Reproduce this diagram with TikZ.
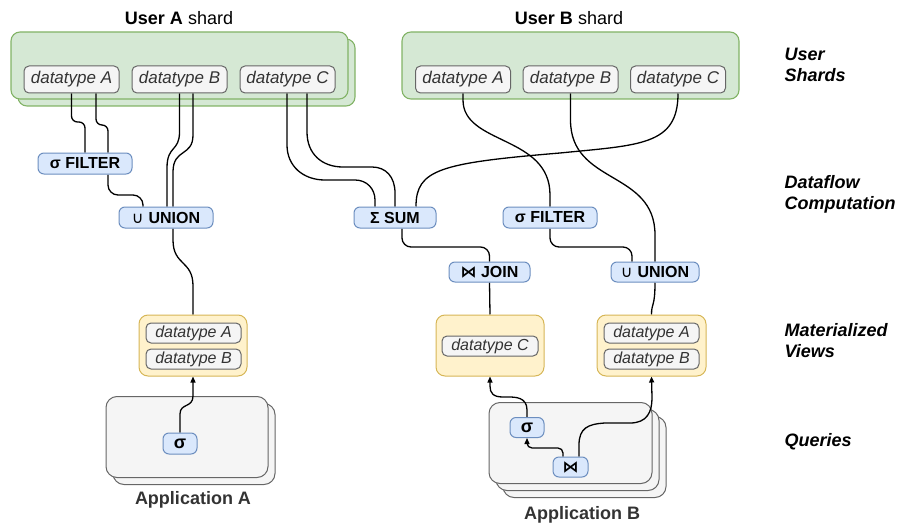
\documentclass[tikz,border=0pt]{standalone}
\usepackage{fontspec}
\setmainfont{Liberation Sans}
\newfontfamily\symfont{DejaVu Sans}
\usetikzlibrary{arrows.meta}
\pgfdeclarelayer{back}
\pgfdeclarelayer{wires}
\pgfsetlayers{back,wires,main}

\definecolor{shardfill}{HTML}{D5E8D4}
\definecolor{shardline}{HTML}{82B366}
\definecolor{dtfill}{HTML}{F5F5F5}
\definecolor{dtline}{HTML}{666666}
\definecolor{dttext}{HTML}{333333}
\definecolor{opfill}{HTML}{DAE8FC}
\definecolor{opline}{HTML}{6C8EBF}
\definecolor{mvfill}{HTML}{FFF2CC}
\definecolor{mvline}{HTML}{D6B656}

\begin{document}
\begin{tikzpicture}[x=1pt,y=1pt,
  shard/.style={draw=shardline, fill=shardfill, line width=1.1pt, rounded corners=9pt,
    minimum width=337pt, minimum height=67pt, inner sep=0pt},
  dtbox/.style={draw=dtline, fill=dtfill, line width=1pt, rounded corners=5pt,
    minimum width=95pt, minimum height=27pt, inner sep=0pt, text=dttext,
    font=\fontsize{17}{20}\selectfont\itshape},
  dtsmall/.style={dtbox, minimum height=20pt, font=\fontsize{16}{19}\selectfont\itshape},
  op/.style={draw=opline, fill=opfill, line width=1pt, rounded corners=6pt,
    minimum height=21pt, inner sep=0pt, font=\fontsize{16}{19}\selectfont\bfseries},
  view/.style={draw=mvline, fill=mvfill, line width=1pt, rounded corners=9pt,
    minimum width=108pt, minimum height=61pt, inner sep=0pt},
  appbox/.style={draw=dtline, fill=dtfill, line width=1pt, rounded corners=11pt,
    minimum height=81pt, inner sep=0pt},
  wire/.style={draw=black, line width=1.3pt},
  arr/.style={wire, -{Triangle[length=6pt,width=5pt]}},
  tier/.style={anchor=west, align=left, font=\fontsize{18}{21}\selectfont\bfseries\itshape},
  title/.style={font=\fontsize{18}{21}\selectfont},
  applabel/.style={font=\fontsize{18}{21}\selectfont\bfseries, text=dttext},
]
\useasboundingbox (0,0) rectangle (901,-524);

% ---------- containers (shards and applications) ----------
\begin{pgfonlayer}{back}
  \node[shard] (shardAback) at (186.5,-72.5) {};
  \node[shard] (shardA) at (179.5,-65.5) {};
  \node[shard] (shardB) at (570.5,-65.5) {};
  \node[appbox, minimum width=162pt] (appAback) at (194,-444) {};
  \node[appbox, minimum width=162pt] (appA) at (187,-437) {};
  \node[appbox, minimum width=163pt] (appBback2) at (584.5,-457) {};
  \node[appbox, minimum width=163pt] (appBback1) at (577.5,-450) {};
  \node[appbox, minimum width=163pt] (appB) at (570.5,-443) {};
\end{pgfonlayer}

% ---------- titles and tier labels ----------
\node[title] (titleA) at (179,-18) {\textbf{User A} shard};
\node[title] (titleB) at (569,-18) {\textbf{User B} shard};
\node[applabel] (labA) at (193,-500) {Application A};
\node[applabel] (labB) at (582,-515) {Application B};

\node[tier] (tShards) at (781,-65) {User\\Shards};
\node[tier] (tFlow) at (781,-194) {Dataflow\\Computation};
\node[tier] (tViews) at (781,-341) {Materialized\\Views};
\node[tier] (tQueries) at (781,-442) {Queries};

% ---------- base tables ----------
\node[dtbox] (dtAa) at (71.5,-79.5) {datatype A};
\node[dtbox] (dtAb) at (179.5,-79.5) {datatype B};
\node[dtbox] (dtAc) at (287.5,-79.5) {datatype C};
\node[dtbox] (dtBa) at (463,-79.5) {datatype A};
\node[dtbox] (dtBb) at (570.5,-79.5) {datatype B};
\node[dtbox] (dtBc) at (678,-79.5) {datatype C};

% ---------- dataflow operators ----------
\node[op, minimum width=94pt] (filA) at (85,-163.5) {σ FILTER};
\node[op, minimum width=94pt] (unA) at (166,-217.5) {{\symfont\fontsize{16}{17}\selectfont\mdseries ∪}\hspace{5pt}UNION};
\node[op, minimum width=82pt] (sum) at (395,-217.5) {Σ SUM};
\node[op, minimum width=94pt] (filB) at (550,-217.5) {σ FILTER};
\node[op, minimum width=81pt, minimum height=20pt] (join) at (489.5,-272) {{\symfont\bfseries ⋈} JOIN};
\node[op, minimum width=88pt, minimum height=20pt] (unB) at (655,-272) {{\symfont\fontsize{16}{17}\selectfont\mdseries ∪}\hspace{5pt}UNION};

% ---------- materialized views ----------
\node[view] (mvA) at (193,-345.5) {};
\node[dtsmall] (mvAa) at (193.5,-333) {datatype A};
\node[dtsmall] (mvAb) at (193.5,-359) {datatype B};
\node[view] (mvC) at (490,-345.5) {};
\node[dtsmall, minimum width=96pt] (mvCc) at (490,-346) {datatype C};
\node[view, minimum width=109pt] (mvB) at (651.5,-345.5) {};
\node[dtsmall] (mvBa) at (651.5,-333) {datatype A};
\node[dtsmall] (mvBb) at (651.5,-359) {datatype B};

% ---------- queries ----------
\node[op, minimum width=34pt, font=\fontsize{18}{20}\selectfont\bfseries] (qsigA) at (180,-443.5) {σ};
\node[op, minimum width=34pt, minimum height=20pt, font=\fontsize{18}{20}\selectfont\bfseries] (qsigB) at (527,-427.5) {σ};
\node[op, minimum width=35pt, minimum height=20pt] (qjoin) at (570.5,-467) {\symfont\bfseries ⋈};

% ---------- connectors ----------
\begin{pgfonlayer}{wires}
  % user A shard into its operators
  \draw[wire, rounded corners=6pt] (dtAa.south) -- (dtAa.south |- 0,-122) -| (filA.north);
  \draw[wire, rounded corners=6pt] ([xshift=24.5pt]dtAa.south) -- ([xshift=24.5pt]dtAa.south |- 0,-125) -| ([xshift=23pt]filA.north);
  \draw[wire, rounded corners=10pt] ([xshift=23pt]filA.south) -- ([xshift=23pt]filA.south |- 0,-195) -| ([xshift=-23pt]unA.north);
  \draw[wire] (dtAb.south) -- (179.5,-132) .. controls (179.5,-152) and (167,-145) .. (167,-168) -- ([xshift=1pt]unA.north);
  \draw[wire] ([xshift=13.5pt]dtAb.south) -- (193,-135) .. controls (193,-157) and (173,-148) .. (173,-172) -- ([xshift=7pt]unA.north);
  \draw[wire] ([xshift=7pt]unA.south) -- (173,-240) .. controls (173,-266) and (193,-260) .. (193,-286) -- (mvA.north);
  \draw[wire] ([xshift=-0.5pt]dtAc.south) -- (287,-145) .. controls (287,-166) and (303,-180) .. (325,-180)
        -- (355,-180) .. controls (367,-180) and (375,-189) .. (375,-200) -- ([xshift=-20pt]sum.north);
  \draw[wire] ([xshift=19.5pt]dtAc.south) -- (307,-132) .. controls (307,-154) and (322,-167) .. (343,-167)
        -- (372,-167) .. controls (386,-167) and (395,-177) .. (395,-193) -- (sum.north);

  % user B shard into its operators
  \draw[wire] (dtBc.south) .. controls +(0,-52) and (640,-145) .. (560,-153)
        .. controls (440,-163) and +(0,37) .. ([xshift=21pt]sum.north);
  \draw[wire] (dtBa.south) -- (463,-100) .. controls (463,-145) and (550,-135) .. (550,-195) -- (filB.north);
  \draw[wire] (dtBb.south) -- (570.5,-120) .. controls (570.5,-185) and (655,-170) .. (655,-235) -- (unB.north);

  % operator to operator
  \draw[wire, rounded corners=9pt] (filB.south) -- (filB.south |- 0,-247) -| ([xshift=-23pt]unB.north);
  \draw[wire, rounded corners=9pt] ([xshift=7pt]sum.south) -- ([xshift=7pt]sum.south |- 0,-247) -| (join.north);

  % operators into views
  \draw[wire] (join.south) -- (mvC.north);
  \draw[wire] (unB.south) .. controls +(0,-25) and +(0,12) .. (mvB.north);

  % queries reading views
  \draw[arr] (qsigA.north) -- (180,-414) .. controls (180,-403) and (193,-408) .. (193,-396) -- (mvA.south);
  \draw[arr] (qsigB.north) -- (527,-410) .. controls (527,-397) and (515,-397) .. (508,-397)
        -- (503,-397) .. controls (493,-397) and (490,-393) .. (490,-386) -- (mvC.south);
  \draw[arr, rounded corners=5pt] ([xshift=-7.5pt]qjoin.north) -- ([xshift=-7.5pt]qjoin.north |- 0,-448) -| (qsigB.south);
  \draw[arr] ([xshift=8.5pt]qjoin.north) -- (579,-445) .. controls (579,-428) and (588,-424) .. (605,-423)
        -- (630,-423) .. controls (647,-423) and (652,-412) .. (652,-398) -- (mvB.south);
\end{pgfonlayer}
\end{tikzpicture}
\end{document}
